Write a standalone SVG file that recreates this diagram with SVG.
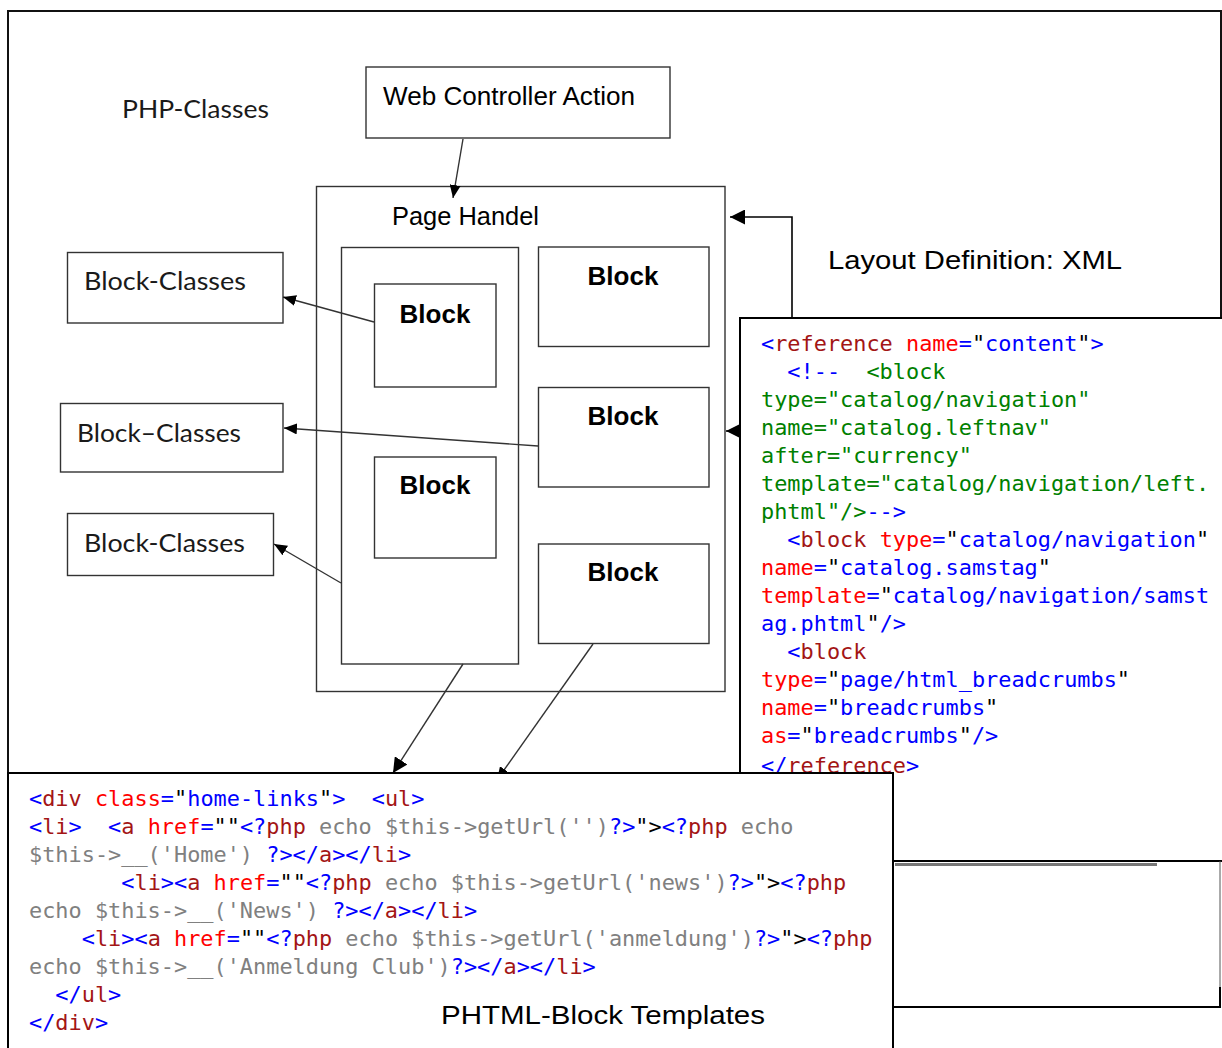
<svg xmlns="http://www.w3.org/2000/svg" width="1222" height="1048" viewBox="0 0 1222 1048">
<style>
.box{fill:#fff;stroke:#333;stroke-width:1.4}
.lbl{font-family:"Liberation Sans",Arial,sans-serif;font-size:25.5px;fill:#000}
.cal{font-family:Lato,"Liberation Sans",sans-serif;font-size:25.5px;fill:#1a1a1a}
.blk{font-family:"Liberation Sans",Arial,sans-serif;font-size:26px;font-weight:bold;fill:#000;text-anchor:middle}
.code{font-family:"DejaVu Sans Mono","Liberation Mono",monospace;font-size:21.9px;white-space:pre}
.code text,.code tspan{white-space:pre}
.conn{fill:none;stroke:#333;stroke-width:1.4}
.b{fill:#0000ff}.r{fill:#ff0000}.d{fill:#a31515}.g{fill:#808080}.k{fill:#000}.gr{fill:#008000}
</style>
<defs>
<marker id="ah" markerUnits="userSpaceOnUse" markerWidth="13" markerHeight="11" refX="13" refY="5.5" orient="auto"><path d="M0,0 L13,5.5 L0,11 z" fill="#000"/></marker>
<marker id="ahb" markerUnits="userSpaceOnUse" markerWidth="15" markerHeight="15" refX="15" refY="7.5" orient="auto"><path d="M0,0 L15,7.5 L0,15 z" fill="#000"/></marker>
</defs>
<rect width="1222" height="1048" fill="#fff"/>
<path d="M8,1048 V11 H1221 V318" fill="none" stroke="#111" stroke-width="2"/>
<text class="cal" x="122" y="118" textLength="147" lengthAdjust="spacingAndGlyphs">PHP-Classes</text>
<text x="828" y="269" font-family="Liberation Sans, Arial, sans-serif" font-size="26" textLength="294" lengthAdjust="spacingAndGlyphs">Layout Definition: XML</text>

<g id="web-controller-action">
<rect class="box" x="366" y="67" width="304" height="71"/>
<text class="lbl" x="383" y="105" textLength="252" lengthAdjust="spacingAndGlyphs">Web Controller Action</text>
</g>
<g id="page-handel">
<rect class="box" x="316.5" y="186.5" width="408.5" height="505"/>
<text class="lbl" x="392" y="225" textLength="147" lengthAdjust="spacingAndGlyphs">Page Handel</text>
</g>
<g id="block-column">
<rect class="box" x="341.5" y="247.5" width="177" height="416.5"/>
</g>
<g id="block-left-top">
<rect class="box" x="374.5" y="284" width="121.5" height="103"/>
<text class="blk" x="435" y="323">Block</text>
</g>
<g id="block-left-mid">
<rect class="box" x="374.5" y="457" width="121.5" height="101"/>
<text class="blk" x="435" y="494">Block</text>
</g>
<g id="block-right-1">
<rect class="box" x="538.5" y="247" width="170.5" height="99.5"/>
<text class="blk" x="623" y="285">Block</text>
</g>
<g id="block-right-2">
<rect class="box" x="538.5" y="387.5" width="170.5" height="99.5"/>
<text class="blk" x="623" y="425">Block</text>
</g>
<g id="block-right-3">
<rect class="box" x="538.5" y="544" width="170.5" height="99.5"/>
<text class="blk" x="623" y="581">Block</text>
</g>
<g id="block-classes-1">
<rect class="box" x="67.5" y="252.5" width="215.5" height="70.5"/>
<text class="cal" x="84" y="290" textLength="162" lengthAdjust="spacingAndGlyphs">Block-Classes</text>
</g>
<g id="block-classes-2">
<rect class="box" x="60.5" y="403.5" width="222.5" height="68.5"/>
<text class="cal" x="77" y="442" textLength="164" lengthAdjust="spacingAndGlyphs">Block–Classes</text>
</g>
<g id="block-classes-3">
<rect class="box" x="67.5" y="513.5" width="206" height="62"/>
<text class="cal" x="84" y="552" textLength="161" lengthAdjust="spacingAndGlyphs">Block-Classes</text>
</g>

<g id="connectors">
<path class="conn" d="M463,139 L453,198" marker-end="url(#ah)"/>
<path class="conn" d="M374,322 L283,297" marker-end="url(#ah)"/>
<path class="conn" d="M538,446 L284,428" marker-end="url(#ah)"/>
<path class="conn" d="M341,583 L274,544" marker-end="url(#ah)"/>
<path class="conn" d="M463,664 L393,773" marker-end="url(#ahb)"/>
<path class="conn" d="M593,644 L497,780" marker-end="url(#ah)"/>
<path d="M792,318 V217 H730" fill="none" stroke="#000" stroke-width="1.6" marker-end="url(#ahb)"/>
<path d="M760,431 H726" fill="none" stroke="#000" stroke-width="1.6" marker-end="url(#ahb)"/>
</g>

<g id="layout-xml">
<rect x="740" y="318" width="520" height="620" fill="#fff" stroke="#000" stroke-width="2"/>
<g class="code">
<text x="761" y="351"><tspan class="b">&lt;</tspan><tspan class="d">reference</tspan> <tspan class="r">name</tspan><tspan class="b">=</tspan><tspan class="k">"</tspan><tspan class="b">content</tspan><tspan class="k">"</tspan><tspan class="b">&gt;</tspan></text>
<text x="761" y="379">  <tspan class="b">&lt;!--</tspan><tspan class="gr">  &lt;block</tspan></text>
<text x="761" y="407" class="gr">type="catalog/navigation"</text>
<text x="761" y="435" class="gr">name="catalog.leftnav"</text>
<text x="761" y="463" class="gr">after="currency"</text>
<text x="761" y="491" class="gr">template="catalog/navigation/left.</text>
<text x="761" y="519"><tspan class="gr">phtml"/&gt;</tspan><tspan class="b">--&gt;</tspan></text>
<text x="761" y="547">  <tspan class="b">&lt;</tspan><tspan class="d">block</tspan> <tspan class="r">type</tspan><tspan class="b">=</tspan><tspan class="k">"</tspan><tspan class="b">catalog/navigation</tspan><tspan class="k">"</tspan></text>
<text x="761" y="575"><tspan class="r">name</tspan><tspan class="b">=</tspan><tspan class="k">"</tspan><tspan class="b">catalog.samstag</tspan><tspan class="k">"</tspan></text>
<text x="761" y="603"><tspan class="r">template</tspan><tspan class="b">=</tspan><tspan class="k">"</tspan><tspan class="b">catalog/navigation/samst</tspan></text>
<text x="761" y="631"><tspan class="b">ag.phtml</tspan><tspan class="k">"</tspan><tspan class="b">/&gt;</tspan></text>
<text x="761" y="659">  <tspan class="b">&lt;</tspan><tspan class="d">block</tspan></text>
<text x="761" y="687"><tspan class="r">type</tspan><tspan class="b">=</tspan><tspan class="k">"</tspan><tspan class="b">page/html_breadcrumbs</tspan><tspan class="k">"</tspan></text>
<text x="761" y="715"><tspan class="r">name</tspan><tspan class="b">=</tspan><tspan class="k">"</tspan><tspan class="b">breadcrumbs</tspan><tspan class="k">"</tspan></text>
<text x="761" y="743"><tspan class="r">as</tspan><tspan class="b">=</tspan><tspan class="k">"</tspan><tspan class="b">breadcrumbs</tspan><tspan class="k">"</tspan><tspan class="b">/&gt;</tspan></text>
<text x="761" y="773"><tspan class="b">&lt;/</tspan><tspan class="d">reference</tspan><tspan class="b">&gt;</tspan></text>
</g>
</g>

<g id="extra-box">
<rect x="893" y="861" width="330" height="146" fill="#fff"/>
<path d="M893,861 H1222" stroke="#000" stroke-width="2" fill="none"/>
<path d="M895,864.5 H1157" stroke="#777" stroke-width="3" fill="none"/>
<path d="M1220,861 V987" stroke="#555" stroke-width="1" fill="none"/>
<path d="M893,1007 H1220 V987" stroke="#000" stroke-width="2" fill="none"/>
</g>

<g id="phtml-templates">
<rect x="8" y="773" width="885" height="320" fill="#fff" stroke="#000" stroke-width="2"/>
<g class="code">
<text x="29" y="806"><tspan class="b">&lt;</tspan><tspan class="d">div</tspan> <tspan class="r">class</tspan><tspan class="b">=</tspan><tspan class="k">"</tspan><tspan class="b">home-links</tspan><tspan class="k">"</tspan><tspan class="b">&gt;</tspan>  <tspan class="b">&lt;</tspan><tspan class="d">ul</tspan><tspan class="b">&gt;</tspan></text>
<text x="29" y="834"><tspan class="b">&lt;</tspan><tspan class="d">li</tspan><tspan class="b">&gt;</tspan>  <tspan class="b">&lt;</tspan><tspan class="d">a</tspan> <tspan class="r">href</tspan><tspan class="b">=</tspan><tspan class="k">""</tspan><tspan class="b">&lt;?</tspan><tspan class="d">php</tspan><tspan class="g"> echo $this-&gt;getUrl('')</tspan><tspan class="b">?&gt;</tspan><tspan class="k">"&gt;</tspan><tspan class="b">&lt;?</tspan><tspan class="d">php</tspan><tspan class="g"> echo</tspan></text>
<text x="29" y="862"><tspan class="g">$this-&gt;__('Home') </tspan><tspan class="b">?&gt;&lt;/</tspan><tspan class="d">a</tspan><tspan class="b">&gt;&lt;/</tspan><tspan class="d">li</tspan><tspan class="b">&gt;</tspan></text>
<text x="29" y="890">       <tspan class="b">&lt;</tspan><tspan class="d">li</tspan><tspan class="b">&gt;&lt;</tspan><tspan class="d">a</tspan> <tspan class="r">href</tspan><tspan class="b">=</tspan><tspan class="k">""</tspan><tspan class="b">&lt;?</tspan><tspan class="d">php</tspan><tspan class="g"> echo $this-&gt;getUrl('news')</tspan><tspan class="b">?&gt;</tspan><tspan class="k">"&gt;</tspan><tspan class="b">&lt;?</tspan><tspan class="d">php</tspan></text>
<text x="29" y="918"><tspan class="g">echo $this-&gt;__('News') </tspan><tspan class="b">?&gt;&lt;/</tspan><tspan class="d">a</tspan><tspan class="b">&gt;&lt;/</tspan><tspan class="d">li</tspan><tspan class="b">&gt;</tspan></text>
<text x="29" y="946">    <tspan class="b">&lt;</tspan><tspan class="d">li</tspan><tspan class="b">&gt;&lt;</tspan><tspan class="d">a</tspan> <tspan class="r">href</tspan><tspan class="b">=</tspan><tspan class="k">""</tspan><tspan class="b">&lt;?</tspan><tspan class="d">php</tspan><tspan class="g"> echo $this-&gt;getUrl('anmeldung')</tspan><tspan class="b">?&gt;</tspan><tspan class="k">"&gt;</tspan><tspan class="b">&lt;?</tspan><tspan class="d">php</tspan></text>
<text x="29" y="974"><tspan class="g">echo $this-&gt;__('Anmeldung Club')</tspan><tspan class="b">?&gt;&lt;/</tspan><tspan class="d">a</tspan><tspan class="b">&gt;&lt;/</tspan><tspan class="d">li</tspan><tspan class="b">&gt;</tspan></text>
<text x="29" y="1002">  <tspan class="b">&lt;/</tspan><tspan class="d">ul</tspan><tspan class="b">&gt;</tspan></text>
<text x="29" y="1030"><tspan class="b">&lt;/</tspan><tspan class="d">div</tspan><tspan class="b">&gt;</tspan></text>
</g>
<text x="441" y="1024" font-family="Liberation Sans, Arial, sans-serif" font-size="26" textLength="324" lengthAdjust="spacingAndGlyphs">PHTML-Block Templates</text>
</g>
</svg>
